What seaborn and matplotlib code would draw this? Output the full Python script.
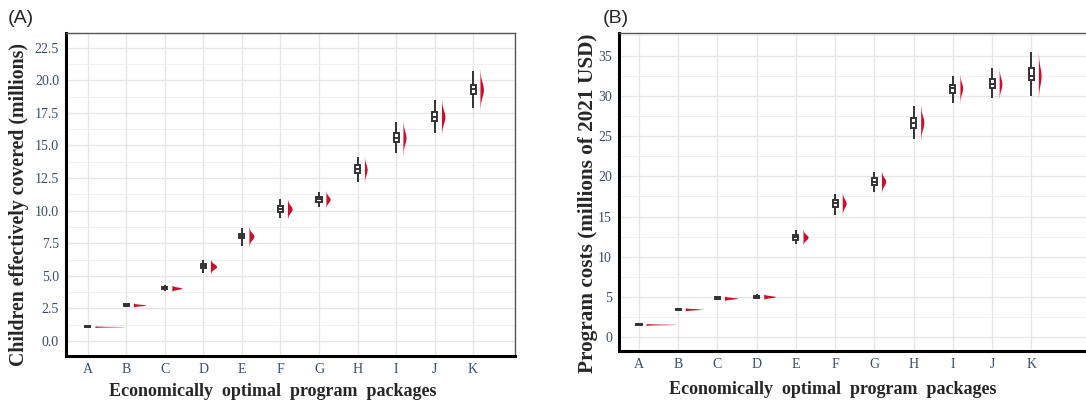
import numpy as np
import pandas as pd
import matplotlib
matplotlib.use("Agg")
import matplotlib.pyplot as plt
import matplotlib.ticker as mticker
import seaborn as sns

packages = ["A", "B", "C", "D", "E", "F", "G", "H", "I", "J", "K"]

# panel A: children effectively covered (millions)
cov_low = [1.05, 2.62, 3.85, 5.20, 7.30, 9.40, 10.25, 12.20, 14.40, 15.95, 17.90]
cov_q1 = [1.08, 2.70, 3.98, 5.58, 7.88, 9.90, 10.66, 12.86, 15.29, 16.90, 18.93]
cov_med = [1.10, 2.76, 4.05, 5.72, 8.03, 10.13, 10.87, 13.17, 15.60, 17.20, 19.30]
cov_q3 = [1.12, 2.82, 4.12, 5.88, 8.22, 10.36, 11.07, 13.50, 15.93, 17.60, 19.64]
cov_high = [1.15, 2.90, 4.28, 6.20, 8.65, 10.87, 11.46, 14.10, 16.83, 18.50, 20.74]
cov_peak = [0.78, 0.32, 0.26, 0.16, 0.13, 0.12, 0.11, 0.07, 0.08, 0.09, 0.09]

# panel B: program costs (millions of 2021 USD)
cost_low = [1.50, 3.30, 4.60, 4.75, 11.56, 15.20, 18.00, 24.60, 29.16, 29.78, 30.03]
cost_q1 = [1.55, 3.40, 4.75, 4.92, 12.10, 16.16, 18.93, 26.06, 30.40, 30.94, 31.98]
cost_med = [1.60, 3.48, 4.85, 5.05, 12.43, 16.65, 19.35, 26.68, 30.94, 31.48, 32.48]
cost_q3 = [1.65, 3.56, 4.95, 5.18, 12.70, 17.07, 19.76, 27.30, 31.36, 32.06, 33.43]
cost_high = [1.70, 3.65, 5.10, 5.35, 13.30, 17.77, 20.50, 28.75, 32.48, 33.43, 35.42]
cost_peak = [0.76, 0.42, 0.34, 0.30, 0.13, 0.10, 0.11, 0.08, 0.07, 0.07, 0.07]

RED = "#c8102e"
TICK_COL = "#3b4a6b"
SERIF = ["Liberation Serif", "DejaVu Serif"]


def draw_panel(ax, low, q1, med, q3, high, peak, ylabel, ysize, yticks, ylim, xlim):
    # five summary values per package, whiskers drawn to min/max
    rows = []
    for i, p in enumerate(packages):
        for v in (low[i], q1[i], med[i], q3[i], high[i]):
            rows.append({"package": p, "value": v})
    df = pd.DataFrame(rows)

    # half violins to the right of each box
    for i in range(len(packages)):
        span = high[i] - low[i]
        ys = np.linspace(low[i] - 0.05 * span, high[i] + 0.05 * span, 80)
        sd = span / 5.0
        prof = np.exp(-0.5 * ((ys - med[i]) / sd) ** 2)
        x0 = i + 0.18
        ax.fill_betweenx(ys, x0, x0 + peak[i] * prof, color=RED, lw=0, zorder=3)

    sns.boxplot(data=df, x="package", y="value", ax=ax, whis=(0, 100),
                width=0.13, color="white", linecolor="#333333", linewidth=1.4,
                fliersize=0, showcaps=False, zorder=4)

    ax.set_xlim(*xlim)
    ax.set_ylim(*ylim)
    ax.set_yticks(yticks)
    step = yticks[1] - yticks[0]
    ax.yaxis.set_minor_locator(mticker.MultipleLocator(step / 2))
    ax.grid(True, which="major", color="#e6e6e6", lw=1.0)
    ax.grid(True, which="minor", axis="y", color="#efefef", lw=0.6)
    ax.set_axisbelow(True)

    ax.tick_params(axis="both", which="major", length=3, color="#555555",
                   labelcolor=TICK_COL, labelsize=10, pad=2)
    ax.tick_params(axis="y", which="minor", length=0)
    for lab in ax.get_xticklabels() + ax.get_yticklabels():
        lab.set_family(SERIF)

    for side in ("left", "bottom"):
        ax.spines[side].set_color("black")
        ax.spines[side].set_linewidth(2.2)
    for side in ("top", "right"):
        ax.spines[side].set_color("#555555")
        ax.spines[side].set_linewidth(1.0)

    ax.set_xlabel("Economically  optimal  program  packages", family=SERIF,
                  fontweight="bold", fontsize=13)
    ax.set_ylabel(ylabel, family=SERIF, fontweight="bold", fontsize=ysize)


def main():
    sns.set_style("whitegrid")
    fig = plt.figure(figsize=(10.86, 4.07), dpi=100)

    ax_a = fig.add_axes([0.0608, 0.1253, 0.4134, 0.7936])
    draw_panel(ax_a, cov_low, cov_q1, cov_med, cov_q3, cov_high, cov_peak,
               "Children effectively covered (millions)", 14.3,
               [0, 2.5, 5, 7.5, 10, 12.5, 15, 17.5, 20, 22.5],
               (-1.15, 23.63), (-0.57, 11.09))
    ax_a.yaxis.set_major_formatter(mticker.FormatStrFormatter("%.1f"))
    ax_a.xaxis.set_label_coords(0.461, -0.084)
    ax_a.yaxis.set_label_coords(-0.082, 0.47)

    ax_b = fig.add_axes([0.570, 0.1376, 0.432, 0.7813])
    draw_panel(ax_b, cost_low, cost_q1, cost_med, cost_q3, cost_high, cost_peak,
               "Program costs (millions of 2021 USD)", 15.3,
               [0, 5, 10, 15, 20, 25, 30, 35],
               (-1.7, 37.8), (-0.51, 11.45))
    ax_b.xaxis.set_label_coords(0.456, -0.094)
    ax_b.yaxis.set_label_coords(-0.045, 0.465)

    fig.text(0.007, 0.955, "(A)", family=["Liberation Sans", "DejaVu Sans"],
             fontsize=14, va="center")
    fig.text(0.555, 0.955, "(B)", family=["Liberation Sans", "DejaVu Sans"],
             fontsize=14, va="center")

    fig.savefig("out.png", dpi=100)


if __name__ == "__main__":
    main()
